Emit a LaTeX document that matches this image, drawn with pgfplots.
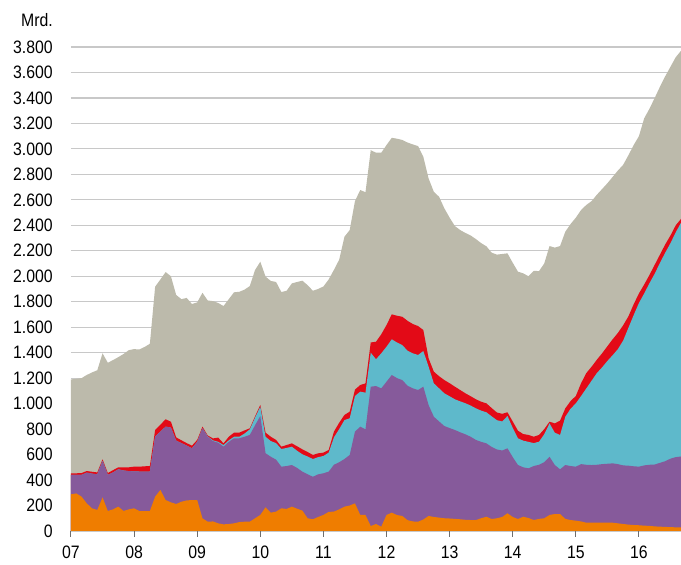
\documentclass[border=0pt]{standalone}
\usepackage{fontspec}
\setmainfont{Liberation Sans}[FakeStretch=0.88]
\usepackage{pgfplots}
\usepackage{pgfplotstable}
\pgfplotsset{compat=1.18}
\definecolor{cgray}{HTML}{BCBAAB}
\definecolor{cred}{HTML}{E30A17}
\definecolor{ccyan}{HTML}{5EB9CB}
\definecolor{cpurple}{HTML}{865A9B}
\definecolor{corange}{HTML}{EF7D00}
\definecolor{cgrid}{HTML}{C8C8C8}
\definecolor{caxis}{HTML}{6E6E6E}

% monthly data from Jan 2007 (m=0); columns are the upper edges of the stacked layers
\pgfplotstableread{
m O P C R T
0 288 440 440 453 1190
1 295 440 440 453 1195
2 270 440 440 455 1200
3 217 458 458 471 1225
4 178 450 450 465 1245
5 165 445 445 460 1262
6 264 550 550 563 1395
7 157 440 440 455 1321
8 170 460 460 478 1342
9 191 484 484 500 1365
10 157 475 475 500 1390
11 170 470 470 500 1420
12 178 468 468 505 1428
13 157 467 467 505 1425
14 157 466 466 508 1445
15 157 466 466 510 1470
16 270 740 740 793 1918
17 322 780 780 835 1975
18 243 819 819 877 2033
19 225 812 812 858 2000
20 212 709 709 735 1853
21 230 690 690 712 1820
22 240 670 670 690 1830
23 243 649 649 670 1782
24 243 700 700 715 1795
25 100 806 806 819 1870
26 73 740 743 750 1810
27 75 706 712 727 1805
28 60 693 700 733 1790
29 52 662 675 688 1766
30 55 700 712 740 1820
31 60 728 740 772 1874
32 70 728 740 772 1878
33 73 740 765 790 1895
34 73 754 798 806 1923
35 100 830 890 900 2049
36 126 903 976 990 2114
37 186 610 740 772 1997
38 144 583 706 740 1963
39 152 560 690 715 1955
40 178 505 644 662 1876
41 173 510 652 675 1886
42 191 518 662 688 1944
43 175 495 630 665 1955
44 160 466 602 641 1965
45 100 445 585 620 1930
46 92 426 565 597 1886
47 110 445 580 610 1900
48 126 453 589 615 1920
49 150 466 615 636 1975
50 152 520 735 780 2050
51 170 540 800 850 2130
52 191 565 871 911 2310
53 200 597 885 937 2363
54 217 780 1060 1110 2590
55 126 819 1094 1146 2677
56 126 798 1086 1159 2660
57 39 1133 1400 1480 2990
58 55 1138 1348 1486 2970
59 34 1120 1395 1544 2970
60 126 1172 1447 1617 3030
61 144 1225 1505 1701 3087
62 125 1200 1480 1690 3080
63 118 1185 1460 1682 3070
64 85 1140 1415 1650 3050
65 75 1120 1395 1625 3035
66 73 1107 1382 1609 3022
67 90 1133 1413 1578 2938
68 118 989 1290 1356 2768
69 110 897 1159 1251 2663
70 105 860 1120 1215 2624
71 100 824 1081 1185 2533
72 98 808 1058 1160 2460
73 95 793 1034 1133 2394
74 92 775 1018 1107 2363
75 88 759 1003 1081 2340
76 86 740 985 1058 2320
77 86 715 963 1034 2292
78 100 700 945 1015 2260
79 112 688 932 1002 2235
80 94 660 900 965 2185
81 100 640 870 930 2170
82 110 632 860 920 2175
83 139 649 903 932 2180
84 110 580 810 860 2106
85 94 518 728 787 2036
86 112 500 709 761 2023
87 102 492 700 754 2000
88 86 510 690 740 2043
89 95 520 701 754 2040
90 100 540 760 800 2101
91 126 583 845 858 2237
92 133 518 772 845 2225
93 133 484 754 866 2237
94 95 518 897 963 2350
95 86 510 960 1020 2410
96 81 505 1002 1060 2460
97 75 525 1060 1160 2520
98 65 520 1120 1240 2560
99 65 518 1180 1290 2590
100 65 520 1240 1345 2640
101 65 525 1285 1395 2685
102 65 528 1335 1450 2730
103 65 531 1380 1505 2780
104 60 525 1428 1555 2830
105 55 515 1495 1615 2875
106 50 513 1595 1685 2950
107 47 508 1695 1780 3030
108 45 505 1790 1865 3100
109 42 515 1865 1935 3240
110 40 520 1945 2010 3315
111 36 522 2020 2090 3400
112 34 535 2105 2170 3488
113 32 548 2185 2250 3570
114 30 568 2260 2320 3645
115 29 580 2345 2400 3720
116 29 585 2420 2450 3770
}\layers

\begin{document}
\fontsize{18}{20}\selectfont
\begin{tikzpicture}
\begin{axis}[
    width=610pt, height=484pt, scale only axis,
    xmin=0, xmax=116, ymin=0, ymax=3800,
    axis x line*=bottom, axis y line*=left,
    y axis line style={draw=none},
    x axis line style={caxis, line width=1pt},
    xtick={0,12,...,108},
    xticklabels={07,08,09,10,11,12,13,14,15,16},
    ytick={0,200,...,3800},
    tick align=outside, major tick length=6pt,
    xtick style={caxis, line width=1pt},
    ytick style={draw=none},
    ymajorgrids, grid style={cgrid, line width=1.2pt},
    scaled y ticks=false,
    /pgf/number format/1000 sep={.},
    /pgf/number format/assume math mode=true,
    yticklabel style={inner sep=0pt, xshift=-12pt},
    xticklabel style={inner sep=0pt, yshift=-9pt},
    tick label style={font=\fontsize{18}{20}\selectfont},
]
\coordinate (O) at (rel axis cs:0,0);
\coordinate (T) at (rel axis cs:0,1);
\addplot[fill=cgray, draw=none] table[x=m, y=T] {\layers} \closedcycle;
\addplot[fill=cred, draw=none] table[x=m, y=R] {\layers} \closedcycle;
\addplot[fill=ccyan, draw=none] table[x=m, y=C] {\layers} \closedcycle;
\addplot[fill=cpurple, draw=none] table[x=m, y=P] {\layers} \closedcycle;
\addplot[fill=corange, draw=none] table[x=m, y=O] {\layers} \closedcycle;
\end{axis}
\node[anchor=south east, inner sep=0pt] at ([xshift=-18pt, yshift=20pt]T) {Mrd.};
\pgfresetboundingbox
\path[use as bounding box] (O) ++(-71pt,-34pt) rectangle ++(681pt,565pt);
\end{tikzpicture}
\end{document}
